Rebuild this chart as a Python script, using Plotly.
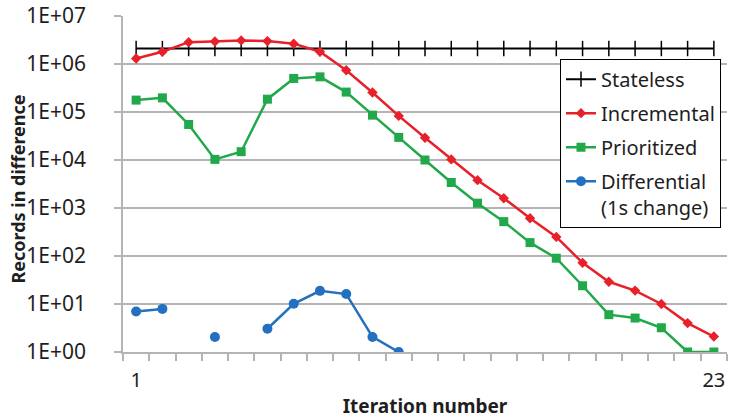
import plotly.graph_objects as go

iterations = [1, 2, 3, 4, 5, 6, 7, 8, 9, 10, 11, 12, 13, 14, 15, 16, 17, 18, 19, 20, 21, 22, 23]

stateless = [2.1e6] * 23
incremental = [1.3e6, 1.8e6, 2.85e6, 2.95e6, 3.1e6, 3.0e6, 2.65e6, 1.8e6, 7.4e5, 2.55e5,
               8.3e4, 2.9e4, 1.03e4, 3.8e3, 1.6e3, 610, 250, 72, 29, 19, 10, 4, 2.1]
prioritized = [1.77e5, 1.97e5, 5.5e4, 1.03e4, 1.49e4, 1.85e5, 5.0e5, 5.4e5, 2.6e5, 8.6e4,
               2.96e4, 1.0e4, 3.4e3, 1.26e3, 520, 190, 90, 24, 6, 5.1, 3.2, 1, 1]
differential = [7.0, 7.9, None, 2.06, None, 3.05, 10.1, 18.8, 16.1, 2.06, 1.0,
                None, None, None, None, None, None, None, None, None, None, None, None]

y_tickvals = [1, 10, 100, 1e3, 1e4, 1e5, 1e6, 1e7]
y_ticktext = ["1E+00", "1E+01", "1E+02", "1E+03", "1E+04", "1E+05", "1E+06", "1E+07"]
x_tickvals = [1, 23]
x_ticktext = ["1", "23"]

FONT = "Noto Sans"
GRID = "#b4b4b4"
TXT = "#1e1e1e"

fig = go.Figure()
fig.add_trace(go.Scatter(
    x=iterations, y=stateless, name="Stateless", mode="lines+markers",
    line=dict(color="#000000", width=2),
    marker=dict(symbol="line-ns", size=11, line=dict(color="#000000", width=1.5)),
    legendgroup="a"))
fig.add_trace(go.Scatter(
    x=iterations, y=incremental, name="Incremental", mode="lines+markers",
    line=dict(color="#e8202a", width=2.5),
    marker=dict(symbol="diamond", size=8, color="#e8202a"),
    legendgroup="b"))
fig.add_trace(go.Scatter(
    x=iterations, y=prioritized, name="Prioritized", mode="lines+markers",
    line=dict(color="#21a84a", width=2.5),
    marker=dict(symbol="square", size=9, color="#21a84a"),
    legendgroup="c"))
fig.add_trace(go.Scatter(
    x=iterations, y=differential, name="Differential<br>(1s change)", mode="lines+markers",
    line=dict(color="#2470c0", width=2.5), connectgaps=False,
    marker=dict(symbol="circle", size=10, color="#2470c0"),
    legendgroup="d"))

fig.update_layout(
    width=733, height=419,
    margin=dict(l=123, r=6, t=16, b=67, autoexpand=False),
    paper_bgcolor="white", plot_bgcolor="white",
    font=dict(family=FONT, size=20, color=TXT),
    legend=dict(x=0.7235, y=0.873, xanchor="left", yanchor="top",
                bgcolor="white", bordercolor="#000000", borderwidth=1,
                font=dict(family=FONT, size=20, color=TXT),
                tracegroupgap=5, traceorder="grouped", valign="top",
                itemwidth=30),
    showlegend=True,
    annotations=[dict(
        text="<b>Records in difference</b>", xref="paper", yref="paper",
        x=-0.174, y=0.486, xanchor="center", yanchor="middle", textangle=-90,
        showarrow=False, font=dict(family=FONT, size=18, color=TXT))],
)
fig.update_xaxes(
    range=[0.5, 23.5], tickmode="array", tickvals=x_tickvals, ticktext=x_ticktext,
    ticks="", showgrid=False, zeroline=False, automargin=False,
    showline=True, linecolor=GRID, linewidth=1.5,
    minor=dict(tick0=0.5, dtick=1, ticks="outside", ticklen=7, tickcolor=GRID, tickwidth=1.5, showgrid=False),
    tickfont=dict(family=FONT, size=20, color=TXT),
    ticklabelstandoff=9, ticklabeloverflow="allow",
    title=dict(text="<b>Iteration number</b>", font=dict(family=FONT, size=19, color=TXT), standoff=15),
)
fig.update_yaxes(
    type="log", range=[0, 7], tickmode="array", tickvals=y_tickvals, ticktext=y_ticktext,
    ticks="outside", ticklen=7, tickcolor=GRID, tickwidth=1.5,
    showgrid=True, gridcolor=GRID, gridwidth=1.5, zeroline=False, automargin=False,
    showline=True, linecolor=GRID, linewidth=1.5,
    tickfont=dict(family=FONT, size=21, color=TXT),
    ticklabelstandoff=24, ticklabeloverflow="allow",
)

# Remove the browser's default 8px body margin so the figure sits at the window's corner.
fig.write_html("out.html", config={"displayModeBar": False},
               post_script="document.body.style.margin='0';")
